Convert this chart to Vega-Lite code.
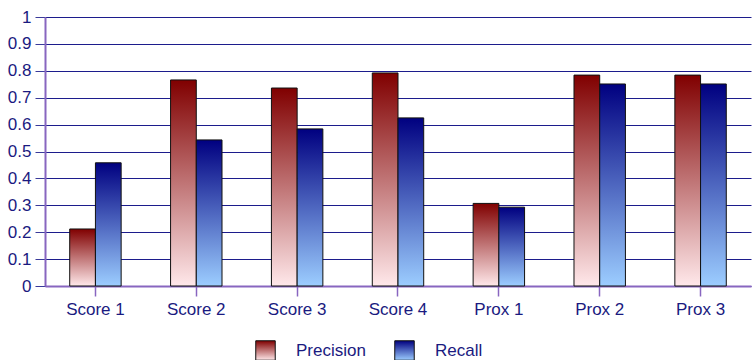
{
  "$schema": "https://vega.github.io/schema/vega-lite/v6.json",
  "autosize": "none",
  "width": 706,
  "height": 269,
  "padding": {"left": 45, "top": 17, "right": 2, "bottom": 74},
  "background": "white",
  "config": {"view": {"stroke": null}, "font": "Liberation Sans"},
  "data": {"values": [
    {"cat": "Score 1", "series": "Precision", "v": 0.212},
    {"cat": "Score 1", "series": "Recall", "v": 0.458},
    {"cat": "Score 2", "series": "Precision", "v": 0.766},
    {"cat": "Score 2", "series": "Recall", "v": 0.543},
    {"cat": "Score 3", "series": "Precision", "v": 0.736},
    {"cat": "Score 3", "series": "Recall", "v": 0.584},
    {"cat": "Score 4", "series": "Precision", "v": 0.792},
    {"cat": "Score 4", "series": "Recall", "v": 0.625},
    {"cat": "Prox 1", "series": "Precision", "v": 0.307},
    {"cat": "Prox 1", "series": "Recall", "v": 0.293},
    {"cat": "Prox 2", "series": "Precision", "v": 0.784},
    {"cat": "Prox 2", "series": "Recall", "v": 0.751},
    {"cat": "Prox 3", "series": "Precision", "v": 0.784},
    {"cat": "Prox 3", "series": "Recall", "v": 0.751}
  ]},
  "encoding": {
    "x": {
      "field": "cat", "type": "nominal", "sort": ["Score 1", "Score 2", "Score 3", "Score 4", "Prox 1", "Prox 2", "Prox 3"],
      "scale": {"paddingInner": 0.49, "paddingOuter": 0.245},
      "axis": {
        "title": null, "labelAngle": 0, "labelFontSize": 17, "labelColor": "#1a1a80",
        "labelPadding": 5, "domainColor": "#8866c0", "domainWidth": 2,
        "tickColor": "#8866c0", "tickSize": 10, "tickWidth": 1.5
      }
    },
    "xOffset": {"field": "series", "type": "nominal", "scale": {"domain": ["Precision", "Recall"]}},
    "y": {
      "field": "v", "type": "quantitative",
      "scale": {"domain": [0, 1]},
      "axis": {
        "title": null, "values": [0, 0.1, 0.2, 0.3, 0.4, 0.5, 0.6, 0.7, 0.8, 0.9, 1],
        "labelExpr": "format(datum.value, '~g')",
        "labelFontSize": 17, "labelColor": "#1a1a80", "labelPadding": 4,
        "domainColor": "#8866c0", "domainWidth": 2,
        "tickColor": "#3a3a9a", "tickSize": 10, "tickWidth": 1,
        "grid": true, "gridColor": "#1c1c8c", "gridWidth": 1
      }
    }
  },
  "layer": [
    {
      "transform": [{"filter": "datum.series === 'Precision'"}],
      "mark": {"type": "bar", "filled": true, "strokeWidth": 1, "fillOpacity": 1,
        "fill": {"gradient": "linear", "x1": 0, "y1": 0, "x2": 0, "y2": 1, "stops": [{"offset": 0, "color": "#800000"}, {"offset": 1, "color": "#ffe8ea"}]}},
      "encoding": {
        "stroke": {
          "field": "series", "type": "nominal",
          "scale": {"domain": ["Precision"], "range": ["#111111"]},
          "legend": {
            "title": null, "orient": "none", "legendX": 210, "legendY": 323,
            "symbolType": "square", "symbolSize": 380, "symbolStrokeWidth": 1,
            "labelFontSize": 17, "labelColor": "#1a1a80", "labelOffset": 20
          }
        }
      }
    },
    {
      "transform": [{"filter": "datum.series === 'Recall'"}],
      "mark": {"type": "bar", "filled": true, "strokeWidth": 1, "fillOpacity": 1,
        "fill": {"gradient": "linear", "x1": 0, "y1": 0, "x2": 0, "y2": 1, "stops": [{"offset": 0, "color": "#000080"}, {"offset": 1, "color": "#9ccdff"}]}},
      "encoding": {
        "stroke": {
          "field": "series", "type": "nominal",
          "scale": {"domain": ["Recall"], "range": ["#111111"]},
          "legend": {
            "title": null, "orient": "none", "legendX": 349, "legendY": 323,
            "symbolType": "square", "symbolSize": 380, "symbolStrokeWidth": 1,
            "labelFontSize": 17, "labelColor": "#1a1a80", "labelOffset": 20
          }
        }
      }
    }
  ],
  "resolve": {"scale": {"stroke": "independent"}, "legend": {"stroke": "independent"}}
}
